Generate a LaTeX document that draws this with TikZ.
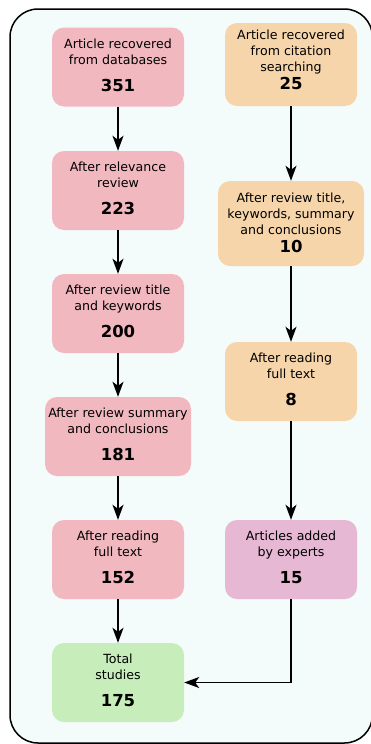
\documentclass[tikz,border=0pt]{standalone}
\usepackage{fontspec}
\setmainfont{DejaVu Sans}
\usepackage{xcolor}
\definecolor{panel}{HTML}{F4FBFB}
\definecolor{rosy}{HTML}{F1B8BF}
\definecolor{peach}{HTML}{F7D5AB}
\definecolor{mauve}{HTML}{E6B8D4}
\definecolor{mint}{HTML}{C7EDBB}
\usetikzlibrary{arrows.meta}

\newcommand{\countnum}[1]{{\fontsize{16.5}{19}\selectfont\bfseries #1}}

\tikzset{
  stage/.style={rounded corners=12pt, align=center, inner sep=0pt,
    minimum width=132pt, minimum height=79pt, text depth=4pt,
    font=\fontsize{12.6}{16}\selectfont},
  flow/.style={line width=1.8pt, -{Stealth[length=15pt,width=11pt,inset=4pt]}}
}

\begin{document}
\begin{tikzpicture}[x=1pt,y=-1pt]
  % Page and panel
  \clip (0,0) rectangle (371,744);
  \fill [white] (0,0) rectangle (371,744);
  \draw [fill=panel, line width=1.5pt, rounded corners=28pt] (10,9) rectangle (372.5,743);

  % Database branch
  \node[stage, fill=rosy] (db) at (118,67) {Article recovered\\from databases\\[11pt]\countnum{351}};
  \node[stage, fill=rosy] (relevance) at (118,190.5) {After relevance\\review\\[11pt]\countnum{223}};
  \node[stage, fill=rosy] (title) at (118,313.5) {After review title\\and keywords\\[11pt]\countnum{200}};
  \node[stage, fill=rosy, minimum width=146pt] (summary) at (118,436.5) {After review summary\\and conclusions\\[11pt]\countnum{181}};
  \node[stage, fill=rosy] (fulltext) at (118,559.5) {After reading\\full text\\[11pt]\countnum{152}};
  \node[stage, fill=mint] (total) at (118,682.5) {Total\\studies\\[11pt]\countnum{175}};

  % Citation branch
  \node[stage, fill=peach, minimum height=83pt, text depth=9pt] (citation) at (291,64.5) {Article recovered\\from citation\\searching\\[2pt]\countnum{25}};
  \node[stage, fill=peach, minimum width=146pt, minimum height=85pt, text depth=2pt] (screen) at (291,223.5) {After review title,\\keywords, summary\\and conclusions\\[2pt]\countnum{10}};
  \node[stage, fill=peach] (reading) at (291,381.5) {After reading\\full text\\[11pt]\countnum{8}};
  \node[stage, fill=mauve] (experts) at (291,559.5) {Articles added\\by experts\\[11pt]\countnum{15}};

  % Connectors
  \draw[flow] (db) -- (relevance);
  \draw[flow] (relevance) -- (title);
  \draw[flow] (title) -- (summary);
  \draw[flow] (summary) -- (fulltext);
  \draw[flow] (fulltext) -- (total);
  \draw[flow] (citation) -- (screen);
  \draw[flow] (screen) -- (reading);
  \draw[flow] (reading) -- (experts);
  \draw[flow] (experts.south) |- (total.east);
\end{tikzpicture}
\end{document}
